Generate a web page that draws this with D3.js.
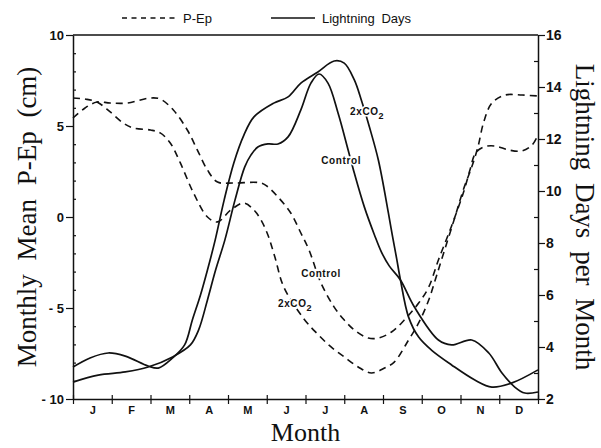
<!DOCTYPE html>
<html>
<head>
<meta charset="utf-8">
<script src="https://cdn.jsdelivr.net/npm/d3@7/dist/d3.min.js"></script>
<style>
    body { margin: 0; background: #fff; }
    svg { display: block; }
    .tick text { font-family: "Liberation Sans", Arial, sans-serif; font-weight: bold; fill: #111; }
    .title { font-family: "Liberation Serif", "Times New Roman", serif; fill: #111; }
    .curve-label { font-family: "Liberation Sans", Arial, sans-serif; font-weight: bold; font-size: 10px; letter-spacing: 0.6px; fill: #111;
        stroke: #fff; stroke-width: 3px; paint-order: stroke; }
    .legend text { font-family: "Liberation Sans", Arial, sans-serif; font-size: 13px; fill: #111; }
</style>
</head>
<body>
<svg id="chart" width="601" height="448"></svg>
<script>
// month ticks on the x axis
const months = ['J', 'F', 'M', 'A', 'M', 'J', 'J', 'A', 'S', 'O', 'N', 'D']
const pepTicks = [-10, -5, 0, 5, 10]
const dayTicks = [2, 4, 6, 8, 10, 12, 14, 16]

// P-Ep (cm), [month, value]
const pepControl = [[0, 5.44], [0.31, 5.99], [0.62, 6.32], [0.96, 6.26], [1.40, 6.26], [2.00, 6.54], [2.25, 6.48],
    [2.59, 5.88], [2.95, 4.78], [3.21, 3.68], [3.47, 2.58], [3.73, 1.92], [4.15, 1.87], [4.85, 1.87], [5.03, 1.65],
    [5.29, 1.10], [5.62, 0.22], [5.88, -0.88], [6.09, -1.81], [6.40, -3.63], [6.74, -4.95], [7.00, -5.66],
    [7.26, -6.21], [7.62, -6.65], [7.88, -6.65], [8.22, -6.32], [8.55, -5.66], [8.92, -4.73], [9.18, -3.85],
    [9.43, -2.36], [9.77, -0.49], [10.08, 1.37], [10.24, 2.55], [10.39, 3.52], [10.60, 3.85], [10.89, 3.90],
    [11.25, 3.68], [11.59, 3.63], [11.85, 3.96], [12, 4.51]]
const pep2xCO2 = [[0, 6.54], [0.31, 6.48], [0.62, 6.32], [0.96, 5.77], [1.30, 5.16], [1.56, 4.89], [2.00, 4.78],
    [2.25, 4.62], [2.51, 4.07], [2.77, 2.97], [3.11, 1.32], [3.47, 0.00], [3.73, -0.27], [4.07, 0.38], [4.41, 0.77],
    [4.67, 0.38], [4.85, -0.16], [5.03, -0.99], [5.21, -2.20], [5.44, -3.85], [5.96, -5.60], [6.32, -6.45],
    [6.66, -7.14], [7.00, -7.69], [7.36, -8.24], [7.70, -8.57], [8.04, -8.30], [8.29, -7.97], [8.66, -6.76],
    [8.92, -5.82], [9.18, -4.56], [9.38, -3.24], [9.59, -1.81], [9.85, -0.05], [10.08, 1.54], [10.29, 2.75],
    [10.45, 3.85], [10.60, 5.22], [10.81, 6.26], [11.15, 6.70], [11.59, 6.70], [12, 6.65]]

// lightning days per month, [month, days]
const daysControl = [[0, 2.65], [0.65, 2.92], [1.35, 3.04], [1.94, 3.23], [2.57, 3.62], [3.03, 4.08], [3.24, 4.65],
    [3.47, 5.81], [3.68, 6.96], [3.92, 8.12], [4.18, 9.65], [4.43, 10.92], [4.59, 11.38], [4.77, 11.69],
    [5.03, 11.81], [5.29, 11.81], [5.55, 12.08], [5.88, 13.12], [6.14, 14.15], [6.35, 14.5], [6.58, 14.15],
    [6.84, 13.0], [7.10, 11.58], [7.26, 10.69], [7.52, 9.38], [7.78, 8.31], [7.96, 7.65], [8.16, 7.12],
    [8.45, 6.58], [8.81, 5.54], [9.43, 4.27], [9.77, 4.08], [10.29, 4.27], [10.73, 3.77], [11.07, 3.0],
    [11.40, 2.46], [11.66, 2.23], [12, 2.27]]
const days2xCO2 = [[0, 3.23], [0.44, 3.58], [0.91, 3.77], [1.35, 3.65], [1.94, 3.27], [2.20, 3.19], [2.57, 3.58],
    [2.88, 4.08], [3.08, 5.04], [3.29, 6.00], [3.47, 6.96], [3.67, 8.12], [3.90, 9.65], [4.15, 11.08],
    [4.41, 12.15], [4.67, 12.85], [5.18, 13.38], [5.55, 13.62], [5.88, 14.15], [6.32, 14.58], [6.74, 15.0],
    [7.00, 14.92], [7.26, 14.27], [7.44, 13.5], [7.65, 12.46], [7.88, 11.19], [8.14, 9.15], [8.24, 8.30],
    [8.35, 7.42], [8.45, 6.58], [8.66, 5.15], [8.92, 4.38], [9.25, 3.88], [9.77, 3.31], [10.37, 2.73],
    [10.81, 2.46], [11.33, 2.62], [12, 3.12]]

const MARGIN = { top: 35, right: 63, bottom: 49, left: 73 }
const width = 601,
    height = 448,
    boundedWidth = width - MARGIN.left - MARGIN.right,
    boundedHeight = height - MARGIN.top - MARGIN.bottom

const $svg = d3.select('#chart')
const $gVis = $svg.append('g')
    .attr('transform', `translate(${MARGIN.left}, ${MARGIN.top})`)

const xScale = d3.scaleLinear().domain([0, 12]).range([0, boundedWidth])
const yLeft = d3.scaleLinear().domain([-10, 10]).range([boundedHeight, 0])
const yRight = d3.scaleLinear().domain([2, 16]).range([boundedHeight, 0])

const minus = d => d < 0 ? `- ${Math.abs(d)}` : `${d}`

// frame top
$gVis.append('line')
    .attr('x1', 0).attr('x2', boundedWidth)
    .attr('y1', 0).attr('y2', 0)
    .attr('stroke', '#111').attr('stroke-width', 1.5)

// left axis
const leftMinor = $gVis.append('g')
    .call(d3.axisLeft(yLeft).tickValues(d3.range(-9, 10).filter(d => d % 5 !== 0)).tickSize(3).tickFormat(''))
leftMinor.select('.domain').remove()
leftMinor.selectAll('.tick line').attr('x2', 3)

const leftAxis = $gVis.append('g')
    .call(d3.axisLeft(yLeft).tickValues(pepTicks).tickSize(7).tickSizeOuter(0).tickPadding(2).tickFormat(minus))
leftAxis.selectAll('.tick text').attr('font-size', 13)

// right axis
const rightMinor = $gVis.append('g')
    .attr('transform', `translate(${boundedWidth}, 0)`)
    .call(d3.axisLeft(yRight).tickValues(d3.range(3, 16, 2)).tickSize(4).tickFormat(''))
rightMinor.select('.domain').remove()

const rightAxis = $gVis.append('g')
    .attr('transform', `translate(${boundedWidth}, 0)`)
    .call(d3.axisRight(yRight).tickValues(dayTicks).tickSize(7).tickSizeOuter(0).tickPadding(1))
rightAxis.selectAll('.tick text').attr('font-size', 14).attr('font-weight', 'normal')

// bottom axis
const xAxis = $gVis.append('g')
    .attr('transform', `translate(0, ${boundedHeight})`)
    .call(d3.axisBottom(xScale).tickValues(d3.range(0, 13)).tickSize(5).tickSizeOuter(0).tickFormat(''))
xAxis.selectAll('.tick line').attr('y1', -4)

const monthAxis = $gVis.append('g')
    .attr('transform', `translate(0, ${boundedHeight})`)
    .call(d3.axisBottom(xScale).tickValues(d3.range(0.5, 12, 1)).tickSize(0).tickPadding(7)
        .tickFormat((d, i) => months[i]))
monthAxis.select('.domain').remove()
monthAxis.selectAll('.tick text').attr('font-size', 11)

$gVis.selectAll('.domain').attr('stroke', '#111').attr('stroke-width', 1.5)
$gVis.selectAll('.tick line').attr('stroke', '#111').attr('stroke-width', 1.2)

// lines
const linePep = d3.line()
    .x(d => xScale(d[0]))
    .y(d => yLeft(d[1]))
    .curve(d3.curveCatmullRom.alpha(0.5))
const lineDays = d3.line()
    .x(d => xScale(d[0]))
    .y(d => yRight(d[1]))
    .curve(d3.curveCatmullRom.alpha(0.5))

;[pepControl, pep2xCO2].forEach(series => {
    $gVis.append('path')
        .datum(series)
        .attr('d', linePep)
        .attr('fill', 'none')
        .attr('stroke', '#111')
        .attr('stroke-width', 1.6)
        .attr('stroke-dasharray', '7,5')
})
;[daysControl, days2xCO2].forEach(series => {
    $gVis.append('path')
        .datum(series)
        .attr('d', lineDays)
        .attr('fill', 'none')
        .attr('stroke', '#111')
        .attr('stroke-width', 1.7)
})

// curve labels
function co2Label(x, y) {
    const t = $gVis.append('text').attr('class', 'curve-label')
        .attr('x', x).attr('y', y)
    t.append('tspan').text('2xCO')
    t.append('tspan').attr('dy', 4).attr('font-size', 9).text('2')
}
co2Label(xScale(7.15), yRight(12.92))
$gVis.append('text').attr('class', 'curve-label')
    .attr('x', xScale(6.92)).attr('y', yRight(11.04))
    .attr('text-anchor', 'middle')
    .text('Control')
$gVis.append('text').attr('class', 'curve-label')
    .attr('x', xScale(6.40)).attr('y', yLeft(-3.30))
    .attr('text-anchor', 'middle')
    .text('Control')
co2Label(xScale(5.29), yLeft(-4.95))

// titles
$svg.append('text').attr('class', 'title')
    .attr('transform', `translate(36, ${MARGIN.top + boundedHeight / 2}) rotate(-90)`)
    .attr('text-anchor', 'middle')
    .attr('font-size', 27)
    .attr('word-spacing', 7)
    .text('Monthly Mean P-Ep (cm)')
$svg.append('text').attr('class', 'title')
    .attr('transform', `translate(576, ${MARGIN.top + boundedHeight / 2}) rotate(90)`)
    .attr('text-anchor', 'middle')
    .attr('font-size', 27)
    .attr('word-spacing', 6)
    .text('Lightning Days per Month')
$svg.append('text').attr('class', 'title')
    .attr('x', MARGIN.left + boundedWidth / 2)
    .attr('y', 441)
    .attr('text-anchor', 'middle')
    .attr('font-size', 26)
    .text('Month')

// legend
const legend = $svg.append('g').attr('class', 'legend')
legend.append('line')
    .attr('x1', 122).attr('x2', 176).attr('y1', 18).attr('y2', 18)
    .attr('stroke', '#111').attr('stroke-width', 1.5).attr('stroke-dasharray', '5,4.5')
legend.append('text').attr('x', 183).attr('y', 23).text('P-Ep')
legend.append('line')
    .attr('x1', 271).attr('x2', 315).attr('y1', 18).attr('y2', 18)
    .attr('stroke', '#111').attr('stroke-width', 1.6)
legend.append('text').attr('x', 322).attr('y', 23).attr('word-spacing', 3).text('Lightning Days')
</script>
</body>
</html>
